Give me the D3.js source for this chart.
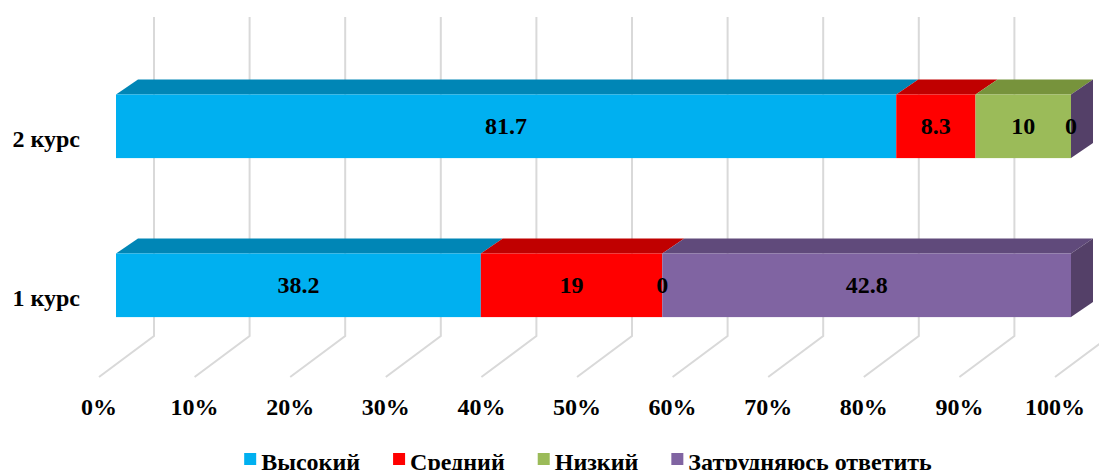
<!DOCTYPE html>
<html>
<head>
<meta charset="utf-8">
<script src="https://cdn.jsdelivr.net/npm/d3@7"></script>
<style>
  body { margin: 0; background: #fff; }
  text { font-family: "Liberation Serif", "Times New Roman", serif; font-weight: bold; fill: #000; }
</style>
</head>
<body>
<div id="chart"></div>
<script>
var width = 1099;
var height = 470;

// data
var categories = ["2 курс", "1 курс"];
var series = ["Высокий", "Средний", "Низкий", "Затрудняюсь ответить"];
var vysokiy = [81.7, 38.2];
var sredniy = [8.3, 19];
var nizkiy = [10, 0];
var zatrud = [0, 42.8];
var ticks = [0, 10, 20, 30, 40, 50, 60, 70, 80, 90, 100];

var frontColors = ["#00B0F0", "#FF0000", "#9BBB59", "#8064A2"];
var topColors = ["#0086B6", "#C00000", "#77933C", "#604A7B"];
var sideColors = ["#0074A0", "#A00000", "#657D33", "#544068"];

var values = [vysokiy, sredniy, nizkiy, zatrud];

// 3d depth of bars and of the whole plot
var bdx = 22, bdy = -15;
var fdx = 55, fdy = -41;

var svg = d3.select("#chart").append("svg")
    .attr("width", width)
    .attr("height", height);

// scales
var xBar = d3.scaleLinear().domain([0, 100]).range([116, 1071]);
var xFloor = d3.scaleLinear().domain([0, 100]).range([99, 1055]);
var floorY = 377;
var wallTop = 17;

var yScale = d3.scaleBand()
    .domain(categories)
    .range([94.5, 317.1])
    .paddingInner(0.6)
    .paddingOuter(0);

// gridlines (back wall + floor)
var grid = svg.append("g");
grid.selectAll("path")
    .data(ticks)
    .enter().append("path")
    .attr("d", function(d) {
        var x = xFloor(d);
        return "M" + x + "," + floorY + "L" + (x + fdx) + "," + (floorY + fdy) + "L" + (x + fdx) + "," + wallTop;
    })
    .attr("fill", "none")
    .attr("stroke", "#d9d9d9")
    .attr("stroke-width", 2);

// tick labels
svg.append("g").selectAll("text")
    .data(ticks)
    .enter().append("text")
    .attr("x", function(d) { return xFloor(d); })
    .attr("y", 415)
    .attr("text-anchor", "middle")
    .style("font-size", "24px")
    .text(function(d) { return d + "%"; });

// bars
categories.forEach(function(cat, ci) {
    var y0 = yScale(cat);
    var y1 = y0 + yScale.bandwidth();
    var acc = 0;
    var g = svg.append("g");
    var segs = [];
    values.forEach(function(arr, si) {
        segs.push({ s: si, v: arr[ci], start: acc, end: acc + arr[ci] });
        acc += arr[ci];
    });

    segs.forEach(function(d) {
        var a = xBar(d.start), b = xBar(d.end);
        // top face
        g.append("path")
            .attr("d", "M" + a + "," + y0 + "L" + (a + bdx) + "," + (y0 + bdy) + "L" + (b + bdx) + "," + (y0 + bdy) + "L" + b + "," + y0 + "Z")
            .attr("fill", topColors[d.s]);
        // front face
        g.append("rect")
            .attr("x", a)
            .attr("y", y0)
            .attr("width", b - a)
            .attr("height", y1 - y0)
            .attr("fill", frontColors[d.s]);
    });

    // right side face (last series)
    var last = segs[segs.length - 1];
    var xe = xBar(last.end);
    g.append("path")
        .attr("d", "M" + xe + "," + y0 + "L" + (xe + bdx) + "," + (y0 + bdy) + "L" + (xe + bdx) + "," + (y1 + bdy) + "L" + xe + "," + y1 + "Z")
        .attr("fill", sideColors[last.s]);

    // data labels
    g.selectAll("text.val")
        .data(segs)
        .enter().append("text")
        .attr("class", "val")
        .attr("x", function(d) { return xBar((d.start + d.end) / 2); })
        .attr("y", (y0 + y1) / 2 + 8)
        .attr("text-anchor", "middle")
        .style("font-size", "24px")
        .text(function(d) { return d.v; });

    // category label
    svg.append("text")
        .attr("x", 80)
        .attr("y", (y0 + y1) / 2 + 21)
        .attr("text-anchor", "end")
        .style("font-size", "24px")
        .text(cat);
});

// legend
var legend = svg.append("g");
var lx = 0;
series.forEach(function(name, i) {
    var item = legend.append("g").attr("transform", "translate(" + lx + ",0)");
    item.append("rect")
        .attr("x", 0)
        .attr("y", 453)
        .attr("width", 12)
        .attr("height", 12)
        .attr("fill", frontColors[i]);
    var t = item.append("text")
        .attr("x", 17)
        .attr("y", 470)
        .style("font-size", "24px")
        .text(name);
    lx += 17 + t.node().getComputedTextLength() + 33;
});
var legendWidth = lx - 33;
legend.attr("transform", "translate(" + (588 - legendWidth / 2) + ",0)");
</script>
</body>
</html>
